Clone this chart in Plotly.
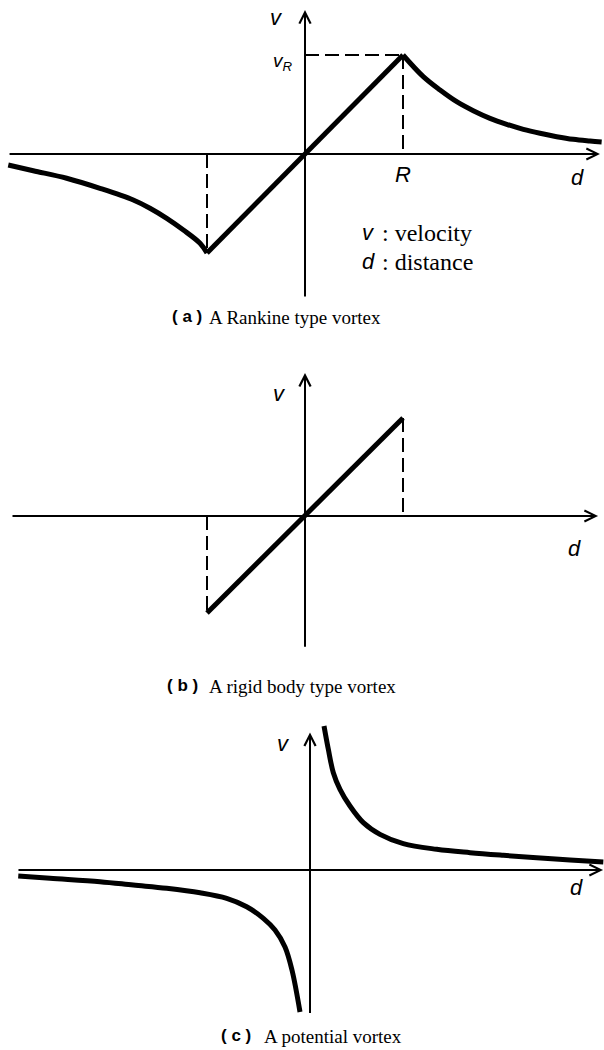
import plotly.graph_objects as go

W, H = 604, 1050

# ---------------------------------------------------------------------------
# Data: d in units of R, v in units of v_R
# ---------------------------------------------------------------------------
# (a) Rankine type vortex
rankine_core_d = [-1.0, 0.0, 1.0]
rankine_core_v = [-1.0, 0.0, 1.0]
rankine_right_d = [1.0, 1.207, 1.378, 1.548, 1.717, 1.888, 2.058, 2.228, 2.398,
                   2.568, 2.738, 2.908, 3.027]
rankine_right_v = [1.0, 0.781, 0.646, 0.528, 0.437, 0.360, 0.300, 0.249, 0.209,
                   0.175, 0.148, 0.131, 0.121]
rankine_left_d = [-3.028, -2.773, -2.432, -2.092, -1.752, -1.582, -1.411, -1.241,
                  -1.071, -1.0]
rankine_left_v = [-0.111, -0.169, -0.245, -0.347, -0.465, -0.548, -0.650, -0.768,
                  -0.902, -1.0]

# (b) rigid body type vortex
rigid_d = [-1.0, 0.0, 1.0]
rigid_v = [-0.99, 0.0, 1.0]

# (c) potential vortex
potential_right_d = [0.143, 0.187, 0.238, 0.306, 0.408, 0.544, 0.714, 0.952,
                     1.293, 1.633, 1.973, 2.313, 2.653, 2.993]
potential_right_v = [1.455, 1.219, 0.983, 0.815, 0.646, 0.478, 0.360, 0.266,
                     0.209, 0.175, 0.148, 0.124, 0.101, 0.081]
potential_left_d = [-2.977, -2.653, -2.143, -1.803, -1.462, -1.122, -0.850,
                    -0.646, -0.476, -0.357, -0.255, -0.184, -0.102]
potential_left_v = [-0.061, -0.084, -0.118, -0.152, -0.185, -0.230, -0.286,
                    -0.371, -0.488, -0.606, -0.778, -1.010, -1.434]

# Extents of the drawn coordinate axes (data units)
axes_a = {"d": (-3.03, 3.01), "v": (-1.455, 1.455)}
axes_b = {"d": (-3.00, 2.99), "v": (-1.35, 1.46)}
axes_c = {"d": (-2.99, 2.99), "v": (-1.46, 1.39)}

captions = [("( a )", "A Rankine type vortex"),
            ("( b )", "A rigid body type vortex"),
            ("( c )", "A potential vortex")]

# ---------------------------------------------------------------------------
# Panel frames: origin (px), scale (px per unit), vertical band (px)
# ---------------------------------------------------------------------------
frames = {
    "a": dict(origin=(305, 154), scale=(98, 99), band=(0, 335)),
    "b": dict(origin=(305, 516), scale=(98, 98), band=(335, 700)),
    "c": dict(origin=(310, 870), scale=(98, 99), band=(700, 1050)),
}


def frame_axes(f):
    ox, oy = f["origin"]
    sx, sy = f["scale"]
    top, bottom = f["band"]
    xr = [(0 - ox) / sx, (W - ox) / sx]
    yr = [(oy - bottom) / sy, (oy - top) / sy]
    dom = [1 - bottom / H, 1 - top / H]
    return xr, yr, dom


def px(x):
    return x / W


def py(y):
    return 1 - y / H


BLACK = "#000000"
CURVE_W = 5
AXIS_W = 2
SANS = "Liberation Sans"
SERIF = "Liberation Serif"

fig = go.Figure()
layout_axes = {}
refs = {"a": ("x", "y"), "b": ("x2", "y2"), "c": ("x3", "y3")}
for key, (xr_name, yr_name) in refs.items():
    xr, yr, dom = frame_axes(frames[key])
    xa = "xaxis" if xr_name == "x" else "xaxis" + xr_name[1:]
    ya = "yaxis" if yr_name == "y" else "yaxis" + yr_name[1:]
    layout_axes[xa] = dict(range=xr, domain=[0, 1], visible=False,
                           fixedrange=True, anchor=yr_name)
    layout_axes[ya] = dict(range=yr, domain=dom, visible=False,
                           fixedrange=True, anchor=xr_name)


def curve(d, v, refkey, shape="spline", width=CURVE_W, dash=None):
    xr_name, yr_name = refs[refkey]
    fig.add_trace(go.Scatter(
        x=d, y=v, mode="lines", xaxis=xr_name, yaxis=yr_name,
        line=dict(color=BLACK, width=width, shape=shape, dash=dash,
                  smoothing=1.0 if shape == "spline" else None),
        hoverinfo="skip", showlegend=False))


DASH = "14px,6px"

# --- (a) Rankine vortex ---
curve([0, 1], [1, 1], "a", shape="linear", width=2, dash=DASH)
curve([1, 1], [1, 0], "a", shape="linear", width=2, dash=DASH)
curve([-1, -1], [0, -1], "a", shape="linear", width=2, dash=DASH)
curve(rankine_left_d, rankine_left_v, "a")
curve(rankine_core_d, rankine_core_v, "a", shape="linear")
curve(rankine_right_d, rankine_right_v, "a")

# --- (b) rigid body vortex ---
curve([1, 1], [1, 0], "b", shape="linear", width=2, dash=DASH)
curve([-1, -1], [0, -1], "b", shape="linear", width=2, dash=DASH)
curve(rigid_d, rigid_v, "b", shape="linear")

# --- (c) potential vortex ---
curve(potential_left_d, potential_left_v, "c")
curve(potential_right_d, potential_right_v, "c")

annotations = []


def axis_arrows(refkey, ext):
    xr_name, yr_name = refs[refkey]
    d0, d1 = ext["d"]
    v0, v1 = ext["v"]
    # horizontal d axis
    annotations.append(dict(x=d1, y=0, ax=d0, ay=0, xref=xr_name, yref=yr_name,
                            axref=xr_name, ayref=yr_name, text="",
                            showarrow=True, arrowhead=5, arrowsize=1.1,
                            arrowwidth=AXIS_W, arrowcolor=BLACK, standoff=0))
    # vertical v axis
    annotations.append(dict(x=0, y=v1, ax=0, ay=v0, xref=xr_name, yref=yr_name,
                            axref=xr_name, ayref=yr_name, text="",
                            showarrow=True, arrowhead=5, arrowsize=1.1,
                            arrowwidth=AXIS_W, arrowcolor=BLACK, standoff=0))


axis_arrows("a", axes_a)
axis_arrows("b", axes_b)
axis_arrows("c", axes_c)


def label(text, x, y, size=22, family=SANS, anchor="center"):
    annotations.append(dict(text=text, x=px(x), y=py(y), xref="paper",
                            yref="paper", showarrow=False, xanchor=anchor,
                            yanchor="middle",
                            font=dict(family=family, size=size, color=BLACK)))


# axis letters
label("<i>v</i>", 276, 17)
label("<i>v</i><sub><i>R</i></sub>", 295, 62, size=19, anchor="right")
label("<i>R</i>", 403, 175)
label("<i>d</i>", 577, 177)
label("<i>v</i>", 279, 393)
label("<i>d</i>", 574, 548)
label("<i>v</i>", 283, 743)
label("<i>d</i>", 576, 887)

# key
label("<i>v</i>", 360, 232, anchor="left")
label(": velocity", 380, 233, size=24, family=SERIF, anchor="left")
label("<i>d</i>", 360, 261, anchor="left")
label(": distance", 380, 262, size=24, family=SERIF, anchor="left")

# captions
cap_pos = [(170, 207, 316), (165, 207, 685), (219, 262, 1035)]
for (tag, title), (xt, xs, yc) in zip(captions, cap_pos):
    label("<b>" + tag + "</b>", xt, yc, size=17, family=SANS, anchor="left")
    label(title, xs, yc + 1, size=19, family=SERIF, anchor="left")

fig.update_layout(
    width=W, height=H, autosize=False,
    margin=dict(l=0, r=0, t=0, b=0),
    paper_bgcolor="white", plot_bgcolor="white",
    showlegend=False,
    annotations=annotations,
    **layout_axes,
)

fig.write_html("out.html", config={"displayModeBar": False})
